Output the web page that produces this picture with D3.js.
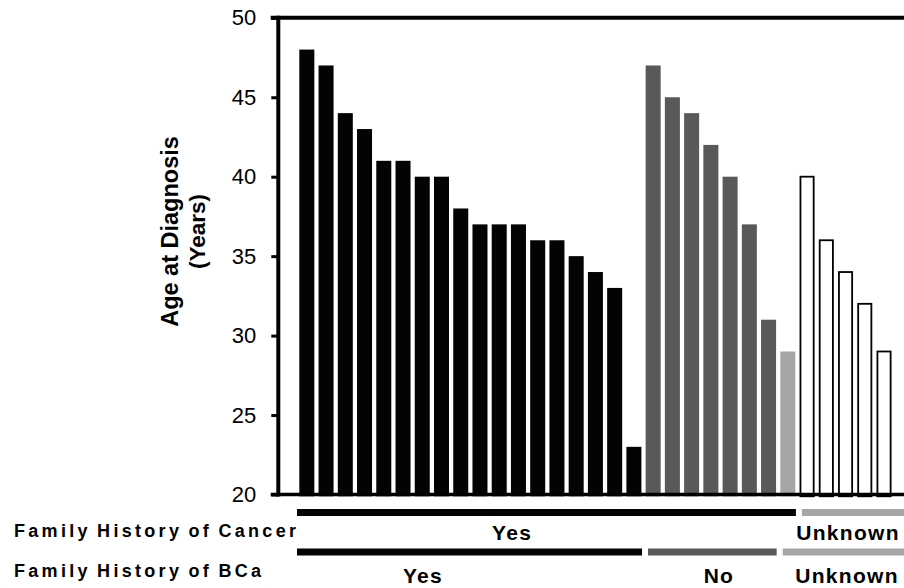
<!DOCTYPE html>
<html>
<head>
<meta charset="utf-8">
<script src="https://cdn.jsdelivr.net/npm/d3@7"></script>
<style>
  html, body { margin: 0; padding: 0; background: #fff; }
  svg { display: block; font-family: "Liberation Sans", Arial, sans-serif; }
</style>
</head>
<body>
<svg id="chart" width="904" height="588"></svg>
<script>
// Age at diagnosis per patient, ordered by group and then by age
const ages = [48, 47, 44, 43, 41, 41, 40, 40, 38, 37, 37, 37, 36, 36, 35, 34, 33, 23,
              47, 45, 44, 42, 40, 37, 31,
              29,
              40, 36, 34, 32, 29];

// Family history of any cancer, per patient
const cancerHistory = ["Yes", "Yes", "Yes", "Yes", "Yes", "Yes", "Yes", "Yes", "Yes", "Yes",
                       "Yes", "Yes", "Yes", "Yes", "Yes", "Yes", "Yes", "Yes",
                       "Yes", "Yes", "Yes", "Yes", "Yes", "Yes", "Yes",
                       "Yes",
                       "Unknown", "Unknown", "Unknown", "Unknown", "Unknown"];

// Family history of breast cancer, per patient
const bcaHistory = ["Yes", "Yes", "Yes", "Yes", "Yes", "Yes", "Yes", "Yes", "Yes", "Yes",
                    "Yes", "Yes", "Yes", "Yes", "Yes", "Yes", "Yes", "Yes",
                    "No", "No", "No", "No", "No", "No", "No",
                    "Unknown",
                    "Unknown", "Unknown", "Unknown", "Unknown", "Unknown"];

const yTicks = [20, 25, 30, 35, 40, 45, 50];

const svg = d3.select("#chart");

const colorBca = { "Yes": "#030303", "No": "#595959", "Unknown": "#a6a6a6" };
const colorCancer = { "Yes": "#030303", "Unknown": "#a6a6a6" };

function barFill(i) {
  if (cancerHistory[i] === "Unknown") return "#ffffff";
  return colorBca[bcaHistory[i]];
}

const x = d3.scaleBand()
  .domain(d3.range(ages.length))
  .range([297.2, 297.2 + ages.length * 19.24])
  .paddingInner(0.22)
  .paddingOuter(0.11);

const y = d3.scaleLinear().domain([20, 50]).range([494.5, 17.8]);

const axisX = 278.3;
const rightEdge = 912;

// Bars (drawn over the baseline)
svg.append("g").selectAll("rect")
  .data(ages)
  .join("rect")
  .attr("x", (d, i) => x(i) + (cancerHistory[i] === "Unknown" ? 0.9 : 0))
  .attr("width", (d, i) => x.bandwidth() - (cancerHistory[i] === "Unknown" ? 1.8 : 0))
  .attr("y", d => y(d))
  .attr("height", d => y(20) + 1.8 - y(d))
  .attr("fill", (d, i) => barFill(i))
  .attr("stroke", (d, i) => cancerHistory[i] === "Unknown" ? "#000" : "none")
  .attr("stroke-width", 1.8);

// Frame lines: baseline and top
svg.append("line")
  .attr("x1", 270.7).attr("x2", rightEdge)
  .attr("y1", y(20)).attr("y2", y(20))
  .attr("stroke", "#000").attr("stroke-width", 3.6);

svg.selectAll("rect").raise();

svg.append("line")
  .attr("x1", 270.7).attr("x2", rightEdge)
  .attr("y1", y(50)).attr("y2", y(50))
  .attr("stroke", "#000").attr("stroke-width", 4);

// White bars sit on the baseline, so redraw it through them
svg.append("g").selectAll("line")
  .data(d3.range(ages.length).filter(i => cancerHistory[i] === "Unknown"))
  .join("line")
  .attr("x1", i => x(i)).attr("x2", i => x(i) + x.bandwidth())
  .attr("y1", y(20) + 0.5).attr("y2", y(20) + 0.5)
  .attr("stroke", "#000").attr("stroke-width", 3);

// Y axis
const yAxis = d3.axisLeft(y)
  .tickValues(yTicks)
  .tickSize(7)
  .tickSizeOuter(0)
  .tickPadding(15)
  .tickFormat(d3.format("d"));

const gy = svg.append("g")
  .attr("transform", `translate(${axisX},0)`)
  .call(yAxis);
gy.select(".domain")
  .attr("stroke", "#000")
  .attr("stroke-width", 4)
  .attr("d", `M0,${y(50) - 2}V${y(20) + 2}`);
gy.selectAll(".tick line").attr("stroke", "#000").attr("stroke-width", 3);
gy.selectAll(".tick text")
  .attr("fill", "#000")
  .style("font-family", "'Liberation Sans', Arial, sans-serif")
  .style("font-size", "22px");

// Y axis title
const titleCy = 231.5;
svg.append("text")
  .attr("transform", `translate(178,${titleCy}) rotate(-90)`)
  .attr("text-anchor", "middle")
  .style("font-weight", "bold").style("font-size", "23.5px")
  .text("Age at Diagnosis");
svg.append("text")
  .attr("transform", `translate(205,${titleCy}) rotate(-90)`)
  .attr("text-anchor", "middle")
  .style("font-weight", "bold").style("font-size", "22.5px")
  .text("(Years)");

// Group bars under the chart
function runs(arr) {
  const out = [];
  arr.forEach((v, i) => {
    if (out.length && out[out.length - 1].label === v) out[out.length - 1].last = i;
    else out.push({ label: v, first: i, last: i });
  });
  return out;
}

const step = x.step();
const halfGap = (step - x.bandwidth()) / 2;

function segmentExtent(r, i, all) {
  const start = i === 0 ? x(r.first) - 2.3 : x(r.first) - halfGap + 4.5;
  const end = i === all.length - 1 ? rightEdge : x(r.last) + x.bandwidth() + halfGap - 1.5;
  return [start, end];
}

// label centres, expressed in bar positions
const labelPos = {
  cancer: { "Yes": 10.67, "Unknown": 28.13 },
  bca: { "Yes": 6.04, "No": 21.42, "Unknown": 28.08 }
};
function posToX(p) { return x(0) + x.bandwidth() / 2 + p * step; }

const rows = [
  { name: "Family History of Cancer", data: cancerHistory, colors: colorCancer, key: "cancer",
    barY: 512.5, labelY: 539.5, titleY: 536.5 },
  { name: "Family History of BCa", data: bcaHistory, colors: colorBca, key: "bca",
    barY: 552, labelY: 583, titleY: 577 }
];

rows.forEach(row => {
  const segs = runs(row.data);
  const g = svg.append("g");
  segs.forEach((r, i) => {
    const [x1, x2] = segmentExtent(r, i, segs);
    g.append("line")
      .attr("x1", x1).attr("x2", x2)
      .attr("y1", row.barY).attr("y2", row.barY)
      .attr("stroke", row.colors[r.label])
      .attr("stroke-width", 7);
    g.append("text")
      .attr("x", posToX(labelPos[row.key][r.label]))
      .attr("y", row.labelY)
      .attr("text-anchor", "middle")
      .style("font-weight", "bold").style("font-size", "21px")
      .style("letter-spacing", "1.3px")
      .text(r.label);
  });
  g.append("text")
    .attr("x", 14).attr("y", row.titleY)
    .style("font-weight", "bold").style("font-size", "18px")
    .style("letter-spacing", "3.3px")
    .style("word-spacing", "-2px")
    .text(row.name);
});
</script>
</body>
</html>
